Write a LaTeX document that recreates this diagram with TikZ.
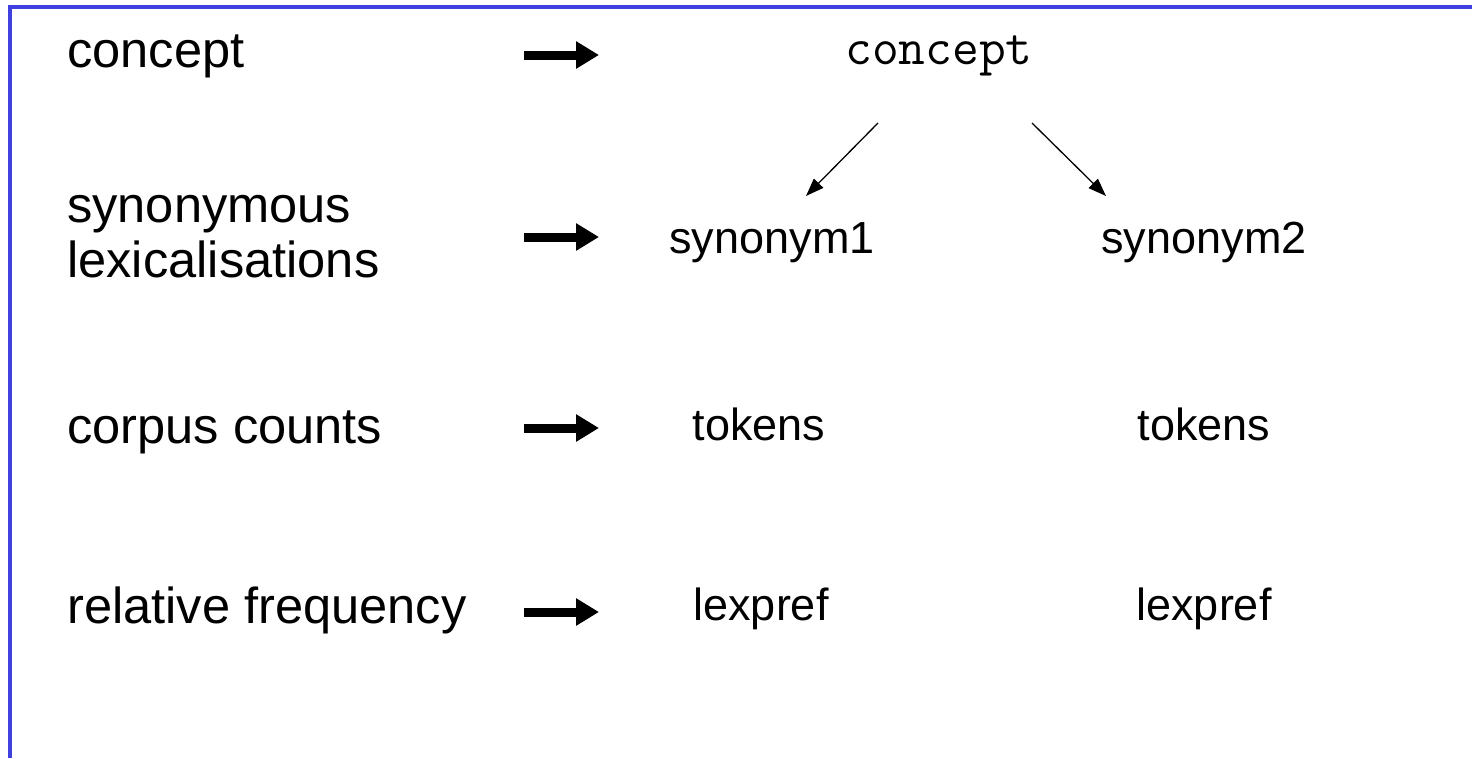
\documentclass[tikz,border=0pt]{standalone}
\usepackage{fontspec}
\setmainfont{Liberation Sans}
\usetikzlibrary{arrows.meta}
\definecolor{frameblue}{RGB}{64,64,224}
\tikzset{
  lab/.style={inner sep=0pt, anchor=base west, font=\fontsize{50.6}{55}\selectfont, align=left},
  val/.style={inner sep=0pt, anchor=base, font=\fontsize{45}{50}\selectfont},
  bigarrow/.style={line width=9pt, -{Triangle[length=23pt,width=26pt]}},
  thinarrow/.style={line width=1.3pt, -{Triangle[length=18pt,width=13pt]}},
}
\begin{document}
\begin{tikzpicture}[x=1pt,y=-1pt]
\useasboundingbox (0,0) rectangle (1472,758);
% frame
\draw[frameblue, line width=3.2pt] (10,758) -- (10,7) -- (1472,7);
% left labels
\node[lab] (lconcept) at (67,67) {concept};
\node[lab] (lsyn) at (67,277) {synonymous\\lexicalisations};
\node[lab] (lcorpus) at (67,443) {corpus counts};
\node[lab] (lrel) at (67,623) {relative frequency};
% block arrows
\coordinate (a1s) at (524,55);  \coordinate (a1e) at (599,55);
\coordinate (a2s) at (524,237); \coordinate (a2e) at (599,237);
\coordinate (a3s) at (524,428); \coordinate (a3e) at (599,428);
\coordinate (a4s) at (524,612); \coordinate (a4e) at (599,612);
\draw[bigarrow] (a1s) -- (a1e);
\draw[bigarrow] (a2s) -- (a2e);
\draw[bigarrow] (a3s) -- (a3e);
\draw[bigarrow] (a4s) -- (a4e);
% right column
\node[inner sep=0pt, anchor=base, font=\ttfamily\fontsize{52}{56}\selectfont] (concept) at (939,64) {concept};
\node[val] (syn1) at (772,253) {synonym1};
\node[val] (syn2) at (1204,253) {synonym2};
\node[val] (tok1) at (759,440) {tokens};
\node[val] (tok2) at (1204,440) {tokens};
\node[val] (lex1) at (761,620) {lexpref};
\node[val] (lex2) at (1204,620) {lexpref};
% tree arrows
\coordinate (t1s) at (878,123); \coordinate (t1e) at (806,196);
\coordinate (t2s) at (1032,123); \coordinate (t2e) at (1106,196);
\draw[thinarrow] (t1s) -- (t1e);
\draw[thinarrow] (t2s) -- (t2e);
\end{tikzpicture}
\end{document}
